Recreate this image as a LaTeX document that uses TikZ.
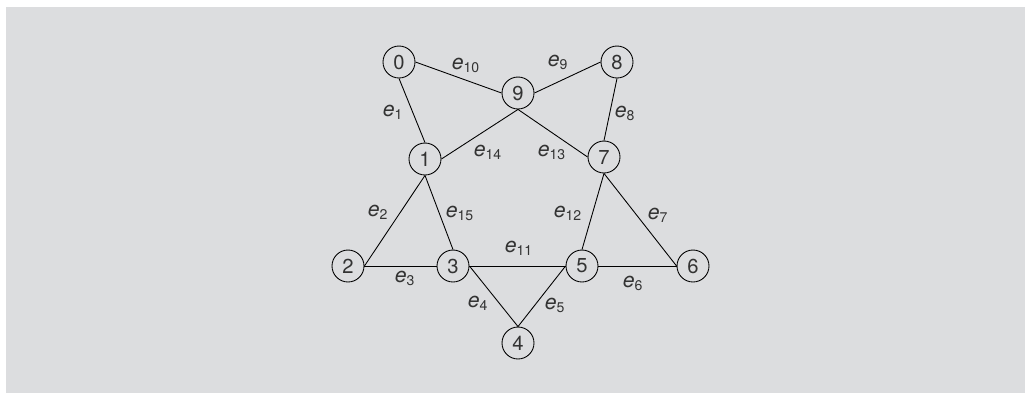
\documentclass[tikz,border=0pt]{standalone}
\usepackage{fontspec}
\setmainfont{TeX Gyre Heros}
\usepackage{tikz}
\usepackage{xcolor}
\usetikzlibrary{arrows.meta}
\definecolor{panelgray}{HTML}{DCDDDF}
\definecolor{inkgray}{HTML}{333333}
\newcommand{\elab}[1]{\textit{e}\textsubscript{#1}}

\begin{document}
\begin{tikzpicture}[x=0.02cm,y=-0.02cm,
vtx/.style={circle,draw=black,line width=0.5pt,minimum size=0.64cm,inner sep=0pt,text=inkgray,font=\fontsize{11.5}{13}\selectfont},
elabel/.style={inner sep=0pt,text=inkgray,font=\fontsize{12}{14}\selectfont},
edge/.style={line width=0.5pt,black}]
\useasboundingbox (0,0) rectangle (1025,393);
\fill[panelgray](6,7) rectangle (1025,393);
%% vertices
\node[vtx] (n0) at (399,62) {0};
\node[vtx] (n8) at (617,62) {8};
\node[vtx] (n9) at (518,93) {9};
\node[vtx] (n1) at (425,159) {1};
\node[vtx] (n7) at (604,157) {7};
\node[vtx] (n2) at (348,266) {2};
\node[vtx] (n3) at (453,266) {3};
\node[vtx] (n5) at (582,266) {5};
\node[vtx] (n6) at (693,266) {6};
\node[vtx] (n4) at (518,343) {4};
%% edges
\draw[edge](n0.south)--(n1.north);
\draw[edge](n1.south)--(n2.east);
\draw[edge](n2.east)--(n3.west);
\draw[edge](n3.east)--(n4.north);
\draw[edge](n4.north)--(n5.west);
\draw[edge](n5.east)--(n6.west);
\draw[edge](n6.west)--(n7.south);
\draw[edge](n7.north)--(n8.south);
\draw[edge](n8.west)--(n9.east);
\draw[edge](n0.east)--(n9.west);
\draw[edge](n3.east)--(n5.west);
\draw[edge](n5.north)--(n7.south);
\draw[edge](n9.south)--(n7.west);
\draw[edge](n9.south)--(n1.east);
\draw[edge](n1.south)--(n3.north);
%% labels
\node[elabel] (l1) at (393,112) {\elab{1}};
\node[elabel] (l2) at (378,212) {\elab{2}};
\node[elabel] (l3) at (405,278) {\elab{3}};
\node[elabel] (l4) at (478,303) {\elab{4}};
\node[elabel] (l5) at (555,305) {\elab{5}};
\node[elabel] (l6) at (633,283) {\elab{6}};
\node[elabel] (l7) at (658,215) {\elab{7}};
\node[elabel] (l8) at (625,113) {\elab{8}};
\node[elabel] (l9) at (558,62) {\elab{9}};
\node[elabel] (l10) at (466,65) {\elab{10}};
\node[elabel] (l11) at (519,248) {\elab{11}};
\node[elabel] (l12) at (568,213) {\elab{12}};
\node[elabel] (l13) at (552,152) {\elab{13}};
\node[elabel] (l14) at (488,152) {\elab{14}};
\node[elabel] (l15) at (460,213) {\elab{15}};
\end{tikzpicture}
\end{document}
